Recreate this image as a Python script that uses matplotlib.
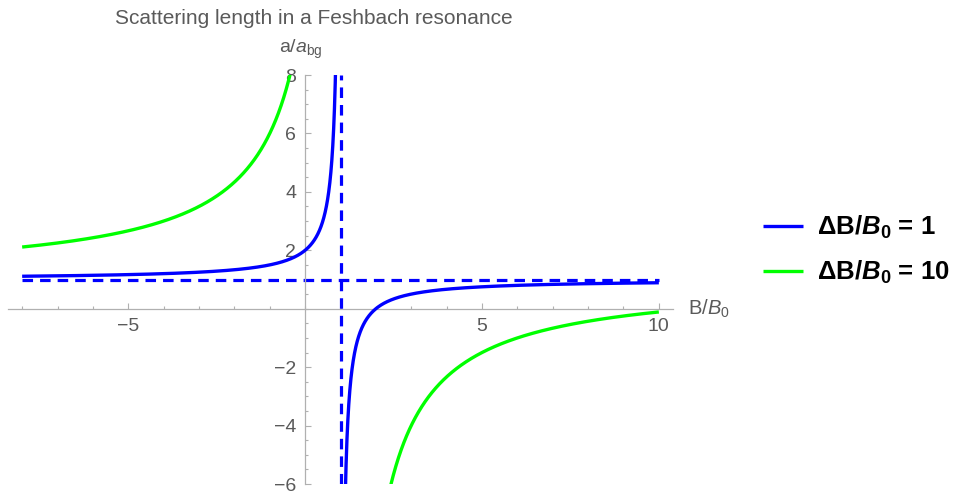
import numpy as np
import matplotlib
matplotlib.use("Agg")
import matplotlib.pyplot as plt
from matplotlib.ticker import MultipleLocator, FixedLocator

plt.rcParams['font.family'] = ['Liberation Sans', 'DejaVu Sans']
plt.rcParams['mathtext.fontset'] = 'custom'
plt.rcParams['mathtext.rm'] = 'Liberation Sans'
plt.rcParams['mathtext.it'] = 'Liberation Sans:italic'
plt.rcParams['mathtext.bf'] = 'Liberation Sans:bold'
plt.rcParams['mathtext.bfit'] = 'Liberation Sans:italic:bold'

# Feshbach resonance: a/a_bg = 1 - dB / (B - B0), with B measured in units of B0
resonance_position = 1.0          # B0 in units of B0
width_values = [1, 10]            # dB/B0 for each curve
curve_colors = ['#0000ff', '#00ff00']
curve_labels = [r'$\mathbf{\Delta B/}\mathbfit{B}_{\mathbf{0}}$' + ' = 1',
                r'$\mathbf{\Delta B/}\mathbfit{B}_{\mathbf{0}}$' + ' = 10']
b_range = (-8, 10)
background_level = 1.0

x_major = [-5, 5, 10]
y_major = [-6, -4, -2, 2, 4, 6, 8]

fig = plt.figure(figsize=(9.57, 4.94), dpi=100)
ax = fig.add_axes([8 / 957, 10 / 494, (673 - 8) / 957, (484 - 75) / 494])

gray_axis = '#b0b0b0'
gray_text = '#5a5a5a'

# plot each branch either side of the pole
for width, color, label in zip(width_values, curve_colors, curve_labels):
    left = np.linspace(b_range[0], resonance_position - 1e-4, 4000)
    right = np.linspace(resonance_position + 1e-4, b_range[1], 4000)
    first = True
    for b in (left, right):
        a = background_level - width / (b - resonance_position)
        ax.plot(b, a, color=color, lw=2.4, solid_capstyle='butt',
                label=label if first else None, zorder=3)
        first = False

# asymptotes of the narrow resonance
ax.plot(list(b_range), [background_level, background_level], color='#0000ff',
        lw=2.3, dashes=(3.3, 2.2), zorder=2)
ax.plot([resonance_position, resonance_position], [-6, 8], color='#0000ff',
        lw=2.3, dashes=(3.3, 2.2), zorder=2)

ax.set_xlim(-8.4, 10.4)
ax.set_ylim(-6, 8)

for side in ('top', 'right'):
    ax.spines[side].set_visible(False)
ax.spines['left'].set_position(('data', 0))
ax.spines['bottom'].set_position(('data', 0))
for side in ('left', 'bottom'):
    ax.spines[side].set_color(gray_axis)
    ax.spines[side].set_linewidth(0.9)
ax.spines['bottom'].set_bounds(-8.4, 10.4)

ax.xaxis.set_major_locator(FixedLocator(x_major))
ax.xaxis.set_minor_locator(MultipleLocator(1))
ax.yaxis.set_major_locator(FixedLocator(y_major))
ax.yaxis.set_minor_locator(MultipleLocator(0.5))
ax.tick_params(which='both', direction='in', color=gray_axis, width=0.8,
               labelcolor=gray_text, labelsize=14)
ax.tick_params(which='major', length=4)
ax.tick_params(which='minor', length=2.5)
ax.tick_params(axis='x', pad=6.5)
ax.tick_params(axis='y', pad=6.5)

ax.text(10.83, -0.2, r'B/$B_0$', color=gray_text, fontsize=14.5,
        va='baseline', ha='left')
ax.text(-0.73, 8.75, r'a/$a_{\mathrm{bg}}$', color=gray_text, fontsize=14,
        va='baseline', ha='left')

fig.text(314 / 957, 1 - 18 / 494, 'Scattering length in a Feshbach resonance',
         color=gray_text, fontsize=15, ha='center', va='center')

fig.legend(loc='center left', bbox_to_anchor=(740 / 957, 1 - 250 / 494),
           frameon=False, prop={'size': 18.5, 'weight': 'bold'},
           handlelength=1.56, handletextpad=0.55, labelspacing=0.72)

fig.savefig('out.png', dpi=100)
